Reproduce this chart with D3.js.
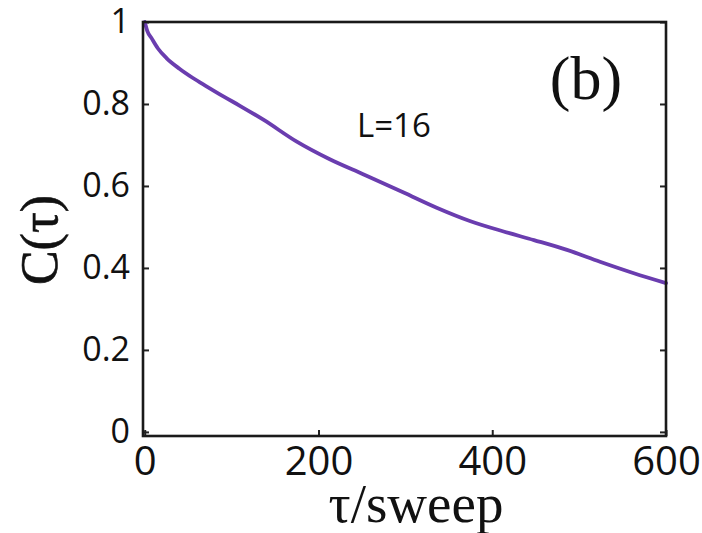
<!DOCTYPE html>
<html>
<head>
<meta charset="utf-8">
<script src="https://cdnjs.cloudflare.com/ajax/libs/d3/7.8.5/d3.min.js"></script>
<style>
  body { margin: 0; background: #fff; overflow: hidden; }
  svg { display: block; }
</style>
</head>
<body>
<script>
// values
var tauValues = [0, 3, 8, 15, 25, 40, 55, 72, 91, 110, 137, 175, 213, 252, 298, 336, 375, 413, 448, 486, 524, 563, 600];
var corrValues = [1.0, 0.978, 0.96, 0.936, 0.912, 0.886, 0.864, 0.842, 0.818, 0.795, 0.761, 0.708, 0.665, 0.628, 0.584, 0.547, 0.514, 0.489, 0.468, 0.444, 0.415, 0.387, 0.363];
var xTicks = [0, 200, 400, 600];
var yTicks = [0, 0.2, 0.4, 0.6, 0.8, 1];
var yTickLabels = ["0", "0.2", "0.4", "0.6", "0.8", "1"];

(function() {
var w = 702, h = 533;
var m = { left: 143, right: 666, top: 22, bottom: 436 };

var svg = d3.select("body").append("svg")
  .attr("width", w)
  .attr("height", h);

var xScale = d3.scaleLinear().domain([-2, 600]).range([m.left, m.right]);
var yScale = d3.scaleLinear().domain([-0.01, 1]).range([m.bottom, m.top]);

var sans = "'Open Sans', 'Noto Sans', sans-serif";
var serif = "'Liberation Serif', 'DejaVu Serif', serif";

// inward ticks
var xAxis = d3.axisBottom(xScale).tickValues(xTicks).tickSize(-6).tickPadding(11).tickFormat(d3.format("d"));
var gx = svg.append("g").attr("transform", "translate(0," + m.bottom + ")").call(xAxis);
gx.select(".domain").remove();
gx.selectAll("line").attr("stroke", "#222").attr("stroke-width", 2);
gx.selectAll("text").attr("font-family", sans).attr("font-size", 40).attr("fill", "#111");

var yAxis = d3.axisLeft(yScale).tickValues(yTicks).tickSize(-6).tickPadding(13)
  .tickFormat(function(d, i) { return yTickLabels[i]; });
var gy = svg.append("g").attr("transform", "translate(" + m.left + ",0)").call(yAxis);
gy.select(".domain").remove();
gy.selectAll("line").attr("stroke", "#222").attr("stroke-width", 2);
gy.selectAll("text").attr("font-family", sans).attr("font-size", 34).attr("fill", "#111");

var yRight = d3.axisRight(yScale).tickValues(yTicks).tickSize(-6).tickFormat("");
var gyr = svg.append("g").attr("transform", "translate(" + m.right + ",0)").call(yRight);
gyr.select(".domain").remove();
gyr.selectAll("line").attr("stroke", "#222").attr("stroke-width", 2);

// curve
var line = d3.line()
  .x(function(d, i) { return xScale(tauValues[i]); })
  .y(function(d) { return yScale(d); })
  .curve(d3.curveMonotoneX);

svg.append("path")
  .datum(corrValues)
  .attr("d", line)
  .attr("fill", "none")
  .attr("stroke", "#6a3daf")
  .attr("stroke-width", 3.8)
  .attr("stroke-linecap", "round");

// frame
svg.append("rect")
  .attr("x", m.left).attr("y", m.top)
  .attr("width", m.right - m.left).attr("height", m.bottom - m.top)
  .attr("fill", "none")
  .attr("stroke", "#1a1a1a")
  .attr("stroke-width", 2.6);

// labels
svg.append("text")
  .attr("x", 416).attr("y", 522)
  .attr("text-anchor", "middle")
  .attr("font-family", serif).attr("font-size", 55)
  .attr("fill", "#111")
  .text("τ/sweep");

svg.append("text")
  .attr("transform", "translate(57,240) rotate(-90)")
  .attr("text-anchor", "middle")
  .attr("font-family", serif).attr("font-size", 52)
  .attr("fill", "#111")
  .attr("stroke", "#111").attr("stroke-width", 0.6)
  .text("C(τ)");

svg.append("text")
  .attr("x", 586).attr("y", 99)
  .attr("text-anchor", "middle")
  .attr("font-family", serif).attr("font-size", 62)
  .attr("fill", "#111")
  .text("(b)");

svg.append("text")
  .attr("x", 357).attr("y", 137)
  .attr("font-family", sans).attr("font-size", 33)
  .attr("fill", "#111")
  .text("L=16");
})();
</script>
</body>
</html>
